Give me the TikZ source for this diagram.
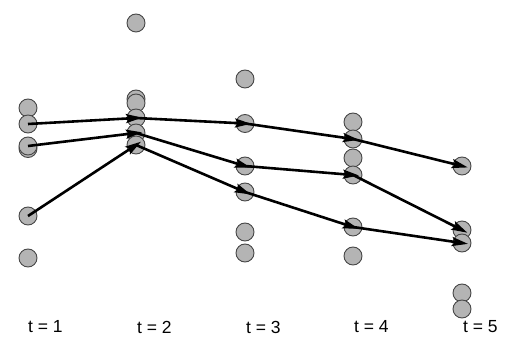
\documentclass[tikz,border=0pt]{standalone}
\usepackage{fontspec}
\setmainfont{Liberation Sans}
\usetikzlibrary{arrows.meta}
\definecolor{dotfill}{HTML}{B4B4B4}
\definecolor{dotline}{HTML}{474747}
\tikzset{
  dot/.style={circle, draw=dotline, fill=dotfill, line width=0.9pt, minimum size=18pt, inner sep=0pt},
  arr/.style={line width=2.6pt, black, shorten >=-6pt, -{Stealth[length=16pt,width=9pt,inset=3pt]}},
  lbl/.style={anchor=west, inner sep=0pt, font=\fontsize{17.5}{19}\selectfont}
}
\begin{document}
\begin{tikzpicture}[x=1pt,y=-1pt]
\useasboundingbox (0,0) rectangle (515,358);
% column 1
\node[dot] (a1) at (28,108) {};
\node[dot] (a2) at (28,124) {};
\node[dot] (a3) at (28,148.5) {};
\node[dot] (a4) at (28,146) {};
\node[dot] (a5) at (28,216) {};
\node[dot] (a6) at (28,258) {};
% column 2
\node[dot] (b0) at (136,23) {};
\node[dot] (b1) at (136,99) {};
\node[dot] (b2) at (136,103) {};
\node[dot] (b3) at (136,118) {};
\node[dot] (b4) at (136,133) {};
\node[dot] (b5) at (136,145) {};
% column 3
\node[dot] (c1) at (245,79) {};
\node[dot] (c2) at (245,123.5) {};
\node[dot] (c3) at (245,166) {};
\node[dot] (c4) at (245,192) {};
\node[dot] (c5) at (245,232) {};
\node[dot] (c6) at (245,253) {};
% column 4
\node[dot] (d1) at (353,122) {};
\node[dot] (d2) at (353,139) {};
\node[dot] (d3) at (353,158) {};
\node[dot] (d4) at (353,175) {};
\node[dot] (d5) at (353,227) {};
\node[dot] (d6) at (353,256) {};
% column 5
\node[dot] (e1) at (462,166) {};
\node[dot] (e2) at (462,230) {};
\node[dot] (e3) at (462,243) {};
\node[dot] (e4) at (462,293) {};
\node[dot] (e5) at (462,309) {};
% arrows
\draw[arr] (a2.center) -- (b3.center);
\draw[arr] (a4.center) -- (b4.center);
\draw[arr] (a5.center) -- (b5.center);
\draw[arr] (b3.center) -- (c2.center);
\draw[arr] (b4.center) -- (c3.center);
\draw[arr] (b5.center) -- (c4.center);
\draw[arr] (c2.center) -- (d2.center);
\draw[arr] (c3.center) -- (d4.center);
\draw[arr] (c4.center) -- (d5.center);
\draw[arr] (d2.center) -- (e1.center);
\draw[arr] (d4.center) -- (e2.center);
\draw[arr] (d5.center) -- (e3.center);
% labels
\node[lbl] (t1) at (28,327) {t = 1};
\node[lbl] (t2) at (137,327) {t = 2};
\node[lbl] (t3) at (246,327) {t = 3};
\node[lbl] (t4) at (354,327) {t = 4};
\node[lbl] (t5) at (463,327) {t = 5};
\end{tikzpicture}
\end{document}
